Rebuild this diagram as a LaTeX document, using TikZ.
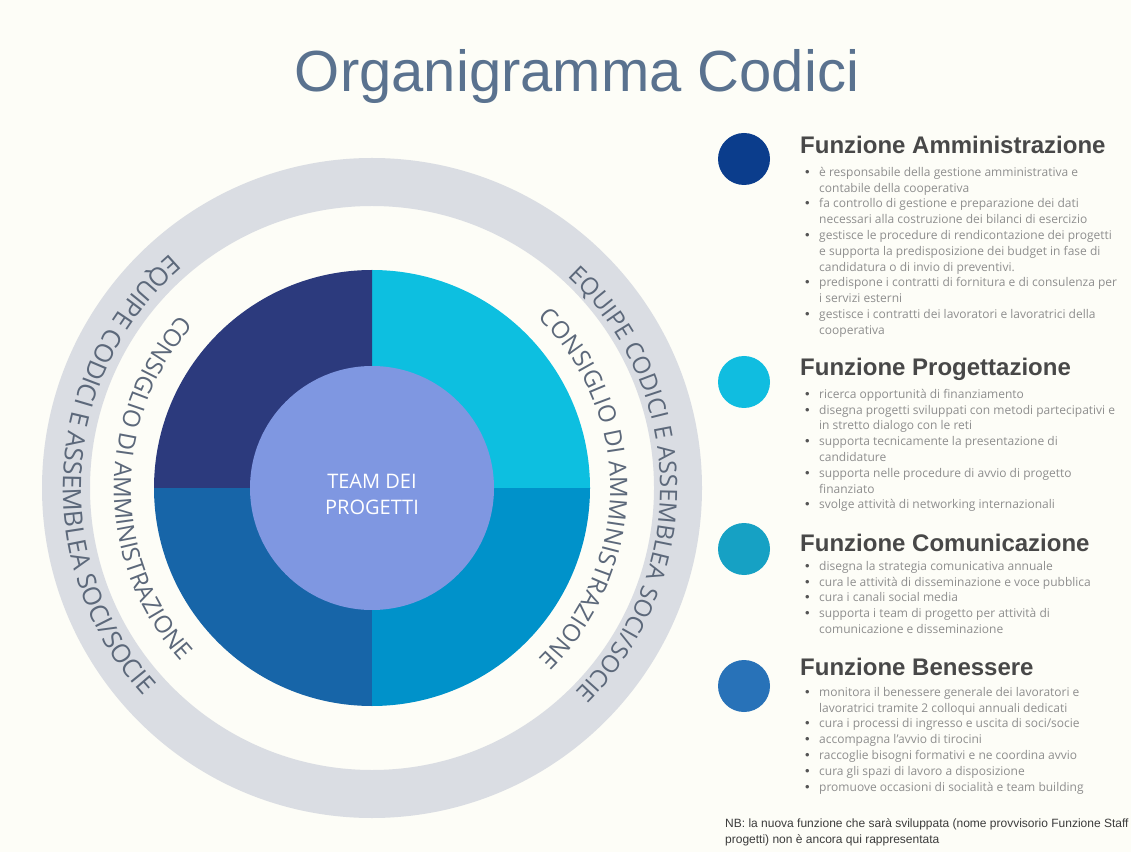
\documentclass[tikz,border=0pt]{standalone}
\usepackage{fontspec}
\setmainfont{Liberation Sans}
\newfontfamily\osans{Open Sans}
\newfontfamily\lsans{Liberation Sans}
\usetikzlibrary{decorations.text}
\definecolor{bg}{RGB}{253,253,247}
\definecolor{ringgray}{RGB}{218,221,227}
\definecolor{qTL}{RGB}{44,58,125}
\definecolor{qTR}{RGB}{13,191,224}
\definecolor{qBR}{RGB}{0,146,202}
\definecolor{qBL}{RGB}{23,101,168}
\definecolor{innerc}{RGB}{127,151,225}
\definecolor{arccol}{RGB}{92,104,122}
\definecolor{titlec}{RGB}{90,114,143}
\definecolor{headc}{RGB}{72,72,72}
\definecolor{bodyc}{RGB}{142,142,142}
\definecolor{bulcol}{RGB}{85,85,85}
\definecolor{cAdm}{RGB}{11,61,140}
\definecolor{cProg}{RGB}{16,189,224}
\definecolor{cCom}{RGB}{22,161,196}
\definecolor{cBen}{RGB}{40,114,184}
\definecolor{nbc}{RGB}{60,60,60}
\newcommand\arcfont{\osans\fontsize{24}{24}\selectfont}
\newcommand\arcfontb{\osans\fontsize{25.5}{25.5}\selectfont}
\newcommand\bul{\strut\makebox[14pt][l]{\textcolor{bulcol}{\lsans\fontsize{13}{13}\selectfont •}}}
\newcommand\ind{\strut\hspace*{14pt}}
\begin{document}
\begin{tikzpicture}[x=1pt,y=1pt,
  headtxt/.style={font=\lsans\bfseries\fontsize{24}{28}\selectfont, text=headc, anchor=base west, inner sep=0pt},
  listtxt/.style={font=\osans\fontsize{12}{15.8}\selectfont, text=bodyc, align=left, anchor=north west, inner sep=0pt},
  dot/.style={circle, minimum size=52pt, inner sep=0pt},
  arctext/.style={decorate, decoration={text along path, text align=center, text color=arccol}}
]
\useasboundingbox (0,0) rectangle (1131,852);
\fill[bg] (0,0) rectangle (1131,852);
\coordinate (C) at (372,364);

% title
\node[font=\lsans\fontsize{58}{60}\selectfont, text=titlec, anchor=base, inner sep=0pt] (title) at (577,760) {Organigramma Codici};

% outer ring
\fill[ringgray, even odd rule] (C) circle[radius=330pt] (C) circle[radius=282pt];

% quadrants
\fill[qTR] (C) -- ([shift={(0:218pt)}]C) arc[start angle=0, end angle=90, radius=218pt] -- cycle;
\fill[qTL] (C) -- ([shift={(90:218pt)}]C) arc[start angle=90, end angle=180, radius=218pt] -- cycle;
\fill[qBL] (C) -- ([shift={(180:218pt)}]C) arc[start angle=180, end angle=270, radius=218pt] -- cycle;
\fill[qBR] (C) -- ([shift={(270:218pt)}]C) arc[start angle=270, end angle=360, radius=218pt] -- cycle;
\node[circle, fill=innerc, minimum size=244pt, inner sep=0pt] (team) at (C) {};
\node[font=\osans\fontsize{20}{26}\selectfont, text=white, align=center, inner sep=0pt] (teamtxt) at (372,358) {TEAM DEI\\PROGETTI};

% curved texts
\path[arctext, decoration={text={|\arcfont|CONSIGLIO DI AMMINISTRAZIONE}}]
  ([shift={(120:258pt)}]C) arc[start angle=120, end angle=240, radius=258pt];
\path[arctext, decoration={text={|\arcfont|CONSIGLIO DI AMMINISTRAZIONE}}]
  ([shift={(60:238pt)}]C) arc[start angle=60, end angle=-60, radius=238pt];
\path[arctext, decoration={text={|\arcfontb|EQUIPE CODICI E ASSEMBLEA SOCI/SOCIE}}]
  ([shift={(116:309pt)}]C) arc[start angle=116, end angle=237, radius=309pt];
\path[arctext, decoration={text={|\arcfont|EQUIPE CODICI E ASSEMBLEA SOCI/SOCIE}}]
  ([shift={(61:288pt)}]C) arc[start angle=61, end angle=-59, radius=288pt];

% right column
\node[dot, fill=cAdm] (dAdm) at (744,693) {};
\node[dot, fill=cProg] (dProg) at (744,470) {};
\node[dot, fill=cCom] (dCom) at (744,303) {};
\node[dot, fill=cBen] (dBen) at (744,166) {};

\node[headtxt] (hAdm) at (800,698) {Funzione Amministrazione};
\node[headtxt] (hProg) at (800,476) {Funzione Progettazione};
\node[headtxt] (hCom) at (800,301) {Funzione Comunicazione};
\node[headtxt] (hBen) at (800,177) {Funzione Benessere};

\node[listtxt] (lAdm) at (805,687) {%
\bul è responsabile della gestione amministrativa e\\
\ind contabile della cooperativa\\
\bul fa controllo di gestione e preparazione dei dati\\
\ind necessari alla costruzione dei bilanci di esercizio\\
\bul gestisce le procedure di rendicontazione dei progetti\\
\ind e supporta la predisposizione dei budget in fase di\\
\ind candidatura o di invio di preventivi.\\
\bul predispone i contratti di fornitura e di consulenza per\\
\ind i servizi esterni\\
\bul gestisce i contratti dei lavoratori e lavoratrici della\\
\ind cooperativa};

\node[listtxt] (lProg) at (805,465) {%
\bul ricerca opportunità di finanziamento\\
\bul disegna progetti sviluppati con metodi partecipativi e\\
\ind in stretto dialogo con le reti\\
\bul supporta tecnicamente la presentazione di\\
\ind candidature\\
\bul supporta nelle procedure di avvio di progetto\\
\ind finanziato\\
\bul svolge attività di networking internazionali};

\node[listtxt] (lCom) at (805,293) {%
\bul disegna la strategia comunicativa annuale\\
\bul cura le attività di disseminazione e voce pubblica\\
\bul cura i canali social media\\
\bul supporta i team di progetto per attività di\\
\ind comunicazione e disseminazione};

\node[listtxt] (lBen) at (805,167) {%
\bul monitora il benessere generale dei lavoratori e\\
\ind lavoratrici tramite 2 colloqui annuali dedicati\\
\bul cura i processi di ingresso e uscita di soci/socie\\
\bul accompagna l’avvio di tirocini\\
\bul raccoglie bisogni formativi e ne coordina avvio\\
\bul cura gli spazi di lavoro a disposizione\\
\bul promuove occasioni di socialità e team building};

\node[font=\lsans\fontsize{12}{16}\selectfont, text=nbc, align=left, anchor=north west, inner sep=0pt] (nb) at (725,36) {\strut NB: la nuova funzione che sarà sviluppata (nome provvisorio Funzione Staff\\\strut progetti) non è ancora qui rappresentata};
\end{tikzpicture}
\end{document}
